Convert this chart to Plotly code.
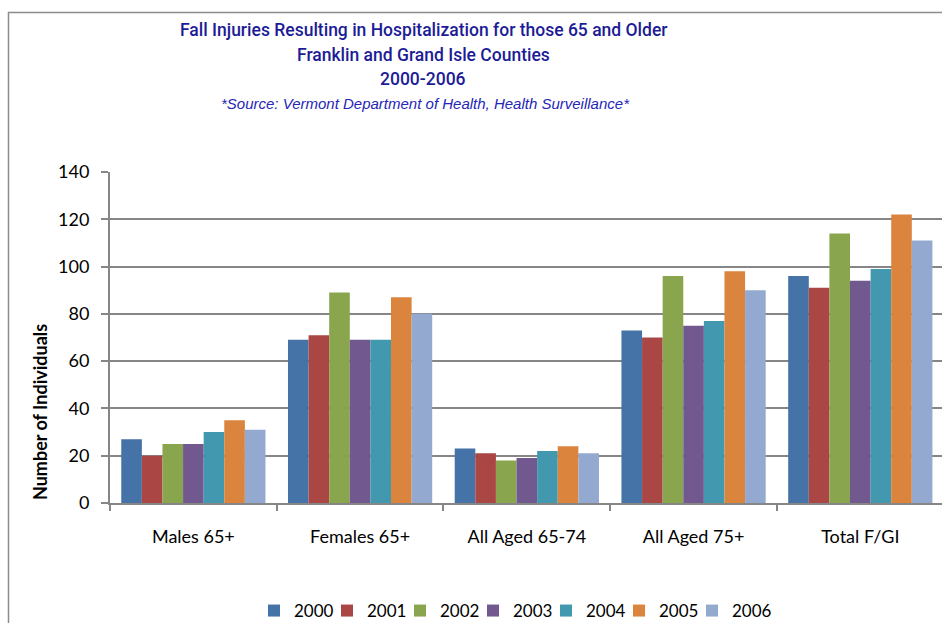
import plotly.graph_objects as go

categories = ["Males 65+", "Females 65+", "All Aged 65-74", "All Aged 75+", "Total F/GI"]
years = ["2000", "2001", "2002", "2003", "2004", "2005", "2006"]
v2000 = [27, 69, 23, 73, 96]
v2001 = [20, 71, 21, 70, 91]
v2002 = [25, 89, 18, 96, 114]
v2003 = [25, 69, 19, 75, 94]
v2004 = [30, 69, 22, 77, 99]
v2005 = [35, 87, 24, 98, 122]
v2006 = [31, 80, 21, 90, 111]
series = [v2000, v2001, v2002, v2003, v2004, v2005, v2006]
colors = ['#4572A7', '#AA4643', '#89A54E', '#71588F', '#4198AF', '#DB843D', '#93A9CF']

W, H = 942, 623
L, T, B = 110, 172, 503

def px(x):
  return (x - L) / (W - L)

def py(y):
  return (B - y) / (B - T)

fig = go.Figure()
for name, vals, c in zip(years, series, colors):
  fig.add_trace(go.Bar(x=categories, y=vals, name=name, marker=dict(color=c, line=dict(width=0))))
# empty legend slot so the last entry is not clipped by the tight entry width
fig.add_trace(go.Scatter(x=[None], y=[None], mode="markers", name=" ",
                         marker=dict(color="rgba(0,0,0,0)", size=1), hoverinfo="skip"))

title_font = dict(family="Roboto, sans-serif", size=17.5, color="#1c1c96", weight=500)
lines = [
  ("Fall Injuries Resulting in Hospitalization for those 65 and Older", 30),
  ("Franklin and Grand Isle Counties", 55),
  ("2000-2006", 79),
]
annotations = []
for txt, y in lines:
  annotations.append(dict(text=txt, x=px(423), y=py(y), xref="paper", yref="paper",
                          showarrow=False, xanchor="center", yanchor="middle", font=title_font))
annotations.append(dict(text="<i>*Source: Vermont Department of Health, Health Surveillance*</i>",
                        x=px(425), y=py(103), xref="paper", yref="paper", showarrow=False,
                        xanchor="center", yanchor="middle",
                        font=dict(family="Liberation Sans, Arial, sans-serif", size=15, color="#2626b8")))
annotations.append(dict(text="<b>Number of Individuals</b>", x=px(40), y=py(412), xref="paper", yref="paper",
                        showarrow=False, textangle=-90, xanchor="center", yanchor="middle",
                        font=dict(size=18)))

fig.update_layout(
  width=W, height=H,
  margin=dict(l=L, r=0, t=T, b=H - B, autoexpand=False),
  paper_bgcolor="white", plot_bgcolor="white",
  barmode="group", bargap=0.135, bargroupgap=0,
  font=dict(family="Lato, Carlito, sans-serif", size=16, color="#000000"),
  xaxis=dict(range=[-0.5, 4.49], showline=True, linecolor="#868686", linewidth=2,
             ticks="outside", tickson="boundaries", ticklen=6, tickcolor="#868686", tickwidth=2,
             tickfont=dict(size=18), showgrid=False, ticklabelstandoff=16),
  yaxis=dict(range=[0, 140], dtick=20, showline=True, linecolor="#868686", linewidth=2,
             ticks="outside", ticklen=7, tickcolor="#868686", tickwidth=2,
             gridcolor="#868686", gridwidth=1.5, zeroline=False,
             tickfont=dict(size=18), ticklabelstandoff=8),
  legend=dict(orientation="h", x=px(254), y=py(611), xanchor="left", yanchor="middle",
              font=dict(size=17), itemwidth=30, traceorder="normal", entrywidth=28,
              entrywidthmode="pixels"),
  annotations=annotations,
  shapes=[dict(type="rect", xref="paper", yref="paper", x0=px(8.5), x1=px(960), y0=py(640), y1=py(12.5),
               line=dict(color="#8c8c8c", width=1.5), fillcolor="rgba(0,0,0,0)", layer="below")],
)

fig.write_html("out.html", config={"displayModeBar": False},
               post_script="document.body.style.margin='0';document.body.style.overflow='hidden';")
